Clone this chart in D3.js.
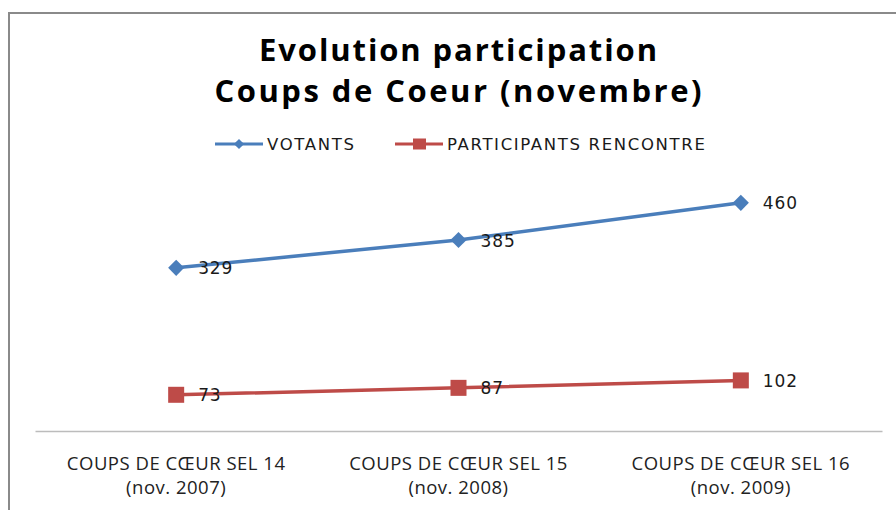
<!DOCTYPE html>
<html>
<head>
<meta charset="utf-8">
<script src="https://cdn.jsdelivr.net/npm/d3@7"></script>
<style>
  body { margin: 0; background: #fff; }
  #chart { width: 896px; height: 510px; }
</style>
</head>
<body>
<div id="chart"></div>
<script>

// DATA

const categories = ["COUPS DE CŒUR SEL 14|(nov. 2007)", "COUPS DE CŒUR SEL 15|(nov. 2008)", "COUPS DE CŒUR SEL 16|(nov. 2009)"];
const votants = [329, 385, 460];
const participants = [73, 87, 102];
const seriesNames = ["VOTANTS", "PARTICIPANTS RENCONTRE"];
const titleLines = ["Evolution participation", "Coups de Coeur (novembre)"];

// SVG CANVAS

const width = 896;
const height = 510;
const margin = {top: 183, left: 35, right: 14, bottom: 79};

const svg = d3.select("#chart")
    .append("svg")
    .attr("width", width)
    .attr("height", height);

// frame (only top + left visible)
svg.append("path")
    .attr("d", `M9,${height} V13 H${width}`)
    .attr("fill", "none")
    .attr("stroke", "#8a8a8a")
    .attr("stroke-width", 2);

// SCALES

const xScale = d3.scaleBand()
    .domain(categories)
    .range([margin.left, width - margin.right]);

const yScale = d3.scaleLinear()
    .domain([0, 500])
    .range([height - margin.bottom, margin.top]);

const colors = ["#4a7ebb", "#be4b48"];

const cx = function(d, i) { return xScale(categories[i]) + xScale.bandwidth() / 2; };

// AXIS

const xAxis = svg.append("g")
    .attr("transform", `translate(0,${height - margin.bottom})`)
    .call(d3.axisBottom(xScale).tickSize(0).tickFormat(""));

xAxis.select(".domain")
    .attr("stroke", "#bcbcbc")
    .attr("stroke-width", 1.5);

const tickLabels = svg.append("g").selectAll("text")
    .data(categories)
    .enter()
    .append("text")
    .attr("text-anchor", "middle")
    .attr("font-family", "'Open Sans', sans-serif")
    .attr("font-size", 18.5)
    .attr("letter-spacing", 0.5)
    .attr("fill", "#222");

tickLabels.each(function(d) {
    const parts = d.split("|");
    const t = d3.select(this);
    const x = xScale(d) + xScale.bandwidth() / 2;
    t.append("tspan").attr("x", x).attr("y", height - margin.bottom + 39).text(parts[0]);
    t.append("tspan").attr("x", x).attr("y", height - margin.bottom + 63).text(parts[1]);
});

// LINES

const line = d3.line()
    .x(cx)
    .y(function(d) { return yScale(d); });

[votants, participants].forEach(function(series, s) {
    svg.append("path")
        .datum(series)
        .attr("fill", "none")
        .attr("stroke", colors[s])
        .attr("stroke-width", 3.5)
        .attr("d", line);
});

// MARKERS

svg.selectAll(".diamond")
    .data(votants)
    .enter()
    .append("path")
    .attr("class", "diamond")
    .attr("transform", function(d, i) { return `translate(${cx(d, i)},${yScale(d)}) rotate(45)`; })
    .attr("d", "M-5.7,-5.7H5.7V5.7H-5.7Z")
    .attr("fill", colors[0]);

svg.selectAll(".square")
    .data(participants)
    .enter()
    .append("rect")
    .attr("class", "square")
    .attr("x", function(d, i) { return cx(d, i) - 8; })
    .attr("y", function(d) { return yScale(d) - 8; })
    .attr("width", 16)
    .attr("height", 16)
    .attr("fill", colors[1]);

// DATA LABELS

[votants, participants].forEach(function(series) {
    svg.append("g").selectAll("text")
        .data(series)
        .enter()
        .append("text")
        .attr("x", function(d, i) { return cx(d, i) + 22; })
        .attr("y", function(d) { return yScale(d) + 6.5; })
        .attr("font-family", "'DejaVu Sans', sans-serif")
        .attr("font-size", 17)
        .attr("letter-spacing", 0.9)
        .attr("fill", "#1a1a1a")
        .text(function(d) { return d; });
});

// TITLE

const titleWidths = [398, 487];

svg.append("g").selectAll("text")
    .data(titleLines)
    .enter()
    .append("text")
    .attr("x", 458)
    .attr("y", function(d, i) { return 61 + i * 41; })
    .attr("text-anchor", "middle")
    .attr("font-family", "'Open Sans', sans-serif")
    .attr("font-weight", "bold")
    .attr("font-size", 31)
    .attr("textLength", function(d, i) { return titleWidths[i]; })
    .attr("lengthAdjust", "spacing")
    .attr("fill", "#000")
    .text(function(d) { return d; });

// LEGEND

const legendX = [215, 395];
const legend = svg.append("g").selectAll("g")
    .data(seriesNames)
    .enter()
    .append("g")
    .attr("transform", function(d, i) { return `translate(${legendX[i]},144)`; });

legend.append("line")
    .attr("x1", 0).attr("x2", 48)
    .attr("stroke", function(d, i) { return colors[i]; })
    .attr("stroke-width", 3);

legend.filter(function(d, i) { return i === 0; })
    .append("path")
    .attr("transform", "translate(24,0) rotate(45)")
    .attr("d", "M-3.6,-3.6H3.6V3.6H-3.6Z")
    .attr("fill", colors[0]);

legend.filter(function(d, i) { return i === 1; })
    .append("rect")
    .attr("x", 18).attr("y", -5.5).attr("width", 13).attr("height", 11)
    .attr("fill", colors[1]);

legend.append("text")
    .attr("x", 52)
    .attr("y", 6)
    .attr("font-family", "'DejaVu Sans', sans-serif")
    .attr("font-size", 16.5)
    .attr("letter-spacing", 1.65)
    .attr("fill", "#1a1a1a")
    .text(function(d) { return d; });

</script>
</body>
</html>
